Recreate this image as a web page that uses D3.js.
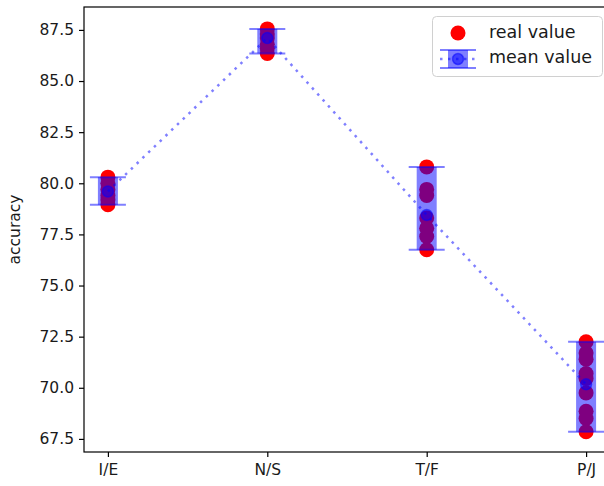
<!DOCTYPE html>
<html>
<head>
<meta charset="utf-8">
<script src="https://cdn.jsdelivr.net/npm/d3@7"></script>
<style>
  html, body { margin: 0; padding: 0; background: #fff; }
  svg { display: block; font-family: "DejaVu Sans", sans-serif; }
</style>
</head>
<body>
<div id="chart"></div>
<script>
// categories and values
var categories = ['I/E', 'N/S', 'T/F', 'P/J'];
var realIE = [80.3, 80.0, 79.7, 79.4, 79.2, 78.95];
var realNS = [87.55, 87.3, 87.1, 86.8, 86.6, 86.35];
var realTF = [80.8, 79.7, 79.4, 78.3, 77.8, 77.4, 76.75];
var realPJ = [72.25, 71.7, 71.4, 70.7, 70.45, 69.75, 68.85, 68.5, 67.85];
var realValues = [realIE, realNS, realTF, realPJ];
var meanValues = [79.6, 87.1, 78.45, 70.17];
var yTicks = [67.5, 70.0, 72.5, 75.0, 77.5, 80.0, 82.5, 85.0, 87.5];

var W = 604, H = 486;
var plotL = 84, plotR = 610, plotT = 7, plotB = 452;

var svg = d3.select('#chart').append('svg').attr('width', W).attr('height', H);

var x = d3.scalePoint().domain(categories).range([plotL, plotR]).padding(0.15);
var y = d3.scaleLinear().domain([66.86, 88.62]).range([plotB, plotT]);

var BLUE = 'rgba(0,0,255,0.5)';
var barW = 20, capW = 36, dotR = 7.5, meanR = 5.5;

// flatten points
var pts = [];
realValues.forEach(function(arr, i){
    arr.forEach(function(v){ pts.push({ c: categories[i], v: v }); });
});

// red dots (real value)
svg.append('g').selectAll('circle').data(pts).join('circle')
    .attr('cx', function(d){ return x(d.c); })
    .attr('cy', function(d){ return y(d.v); })
    .attr('r', dotR)
    .attr('fill', '#ff0000');

var stats = categories.map(function(c, i){
    var ext = d3.extent(realValues[i]);
    return { c: c, lo: ext[0], hi: ext[1], mean: meanValues[i] };
});

// thick error bars
svg.append('g').selectAll('line').data(stats).join('line')
    .attr('x1', function(d){ return x(d.c); }).attr('x2', function(d){ return x(d.c); })
    .attr('y1', function(d){ return y(d.lo); }).attr('y2', function(d){ return y(d.hi); })
    .attr('stroke', BLUE).attr('stroke-width', barW);

// caps
var caps = [];
stats.forEach(function(d){ caps.push({ c: d.c, v: d.lo }); caps.push({ c: d.c, v: d.hi }); });
svg.append('g').selectAll('line').data(caps).join('line')
    .attr('x1', function(d){ return x(d.c) - capW / 2; })
    .attr('x2', function(d){ return x(d.c) + capW / 2; })
    .attr('y1', function(d){ return y(d.v); }).attr('y2', function(d){ return y(d.v); })
    .attr('stroke', BLUE).attr('stroke-width', 2);

// dotted mean line
var line = d3.line().x(function(d){ return x(d.c); }).y(function(d){ return y(d.mean); });
svg.append('path').datum(stats)
    .attr('d', line)
    .attr('fill', 'none').attr('stroke', BLUE)
    .attr('stroke-width', 2.5).attr('stroke-dasharray', '2.5,5.5');

// mean markers
svg.append('g').selectAll('circle').data(stats).join('circle')
    .attr('cx', function(d){ return x(d.c); })
    .attr('cy', function(d){ return y(d.mean); })
    .attr('r', meanR)
    .attr('fill', BLUE).attr('stroke', BLUE).attr('stroke-width', 1.5);

// axes
var yAxis = d3.axisLeft(y).tickValues(yTicks).tickFormat(d3.format('.1f')).tickSize(5).tickPadding(5);
var gy = svg.append('g').attr('transform', 'translate(' + plotL + ',0)').call(yAxis);
var xAxis = d3.axisBottom(x).tickSize(5).tickPadding(7);
var gx = svg.append('g').attr('transform', 'translate(0,' + plotB + ')').call(xAxis);
[gx, gy].forEach(function(g){
    g.select('.domain').remove();
    g.selectAll('.tick line').attr('stroke', '#000').attr('stroke-width', 1.2);
    g.selectAll('.tick text').attr('fill', '#1a1a1a').attr('font-size', 15.5)
        .attr('font-family', '"DejaVu Sans", sans-serif');
});

// frame
svg.append('rect').attr('x', plotL).attr('y', plotT)
    .attr('width', plotR - plotL).attr('height', plotB - plotT)
    .attr('fill', 'none').attr('stroke', '#000').attr('stroke-width', 1.2);

// y label
svg.append('text')
    .attr('transform', 'translate(20,' + ((plotT + plotB) / 2) + ') rotate(-90)')
    .attr('text-anchor', 'middle').attr('font-size', 15.5).attr('fill', '#1a1a1a')
    .text('accuracy');

// legend
var lg = svg.append('g');
lg.append('rect').attr('x', 432.5).attr('y', 16.5).attr('width', 170).attr('height', 60)
    .attr('rx', 4).attr('fill', 'rgba(255,255,255,0.8)').attr('stroke', '#d0d0d0');
lg.append('circle').attr('cx', 458).attr('cy', 33).attr('r', dotR).attr('fill', '#ff0000');
lg.append('line').attr('x1', 440).attr('x2', 476).attr('y1', 59).attr('y2', 59)
    .attr('stroke', BLUE).attr('stroke-width', 2.5).attr('stroke-dasharray', '2.5,5.5');
lg.append('line').attr('x1', 458).attr('x2', 458).attr('y1', 50).attr('y2', 68)
    .attr('stroke', BLUE).attr('stroke-width', barW);
[50, 68].forEach(function(yy){
    lg.append('line').attr('x1', 440).attr('x2', 476).attr('y1', yy).attr('y2', yy)
        .attr('stroke', BLUE).attr('stroke-width', 2);
});
lg.append('circle').attr('cx', 458).attr('cy', 59).attr('r', meanR)
    .attr('fill', BLUE).attr('stroke', BLUE).attr('stroke-width', 1.5);
lg.append('text').attr('x', 489).attr('y', 38).attr('font-size', 17.5).attr('fill', '#1a1a1a').text('real value');
lg.append('text').attr('x', 489).attr('y', 63).attr('font-size', 17.5).attr('fill', '#1a1a1a').text('mean value');
</script>
</body>
</html>
